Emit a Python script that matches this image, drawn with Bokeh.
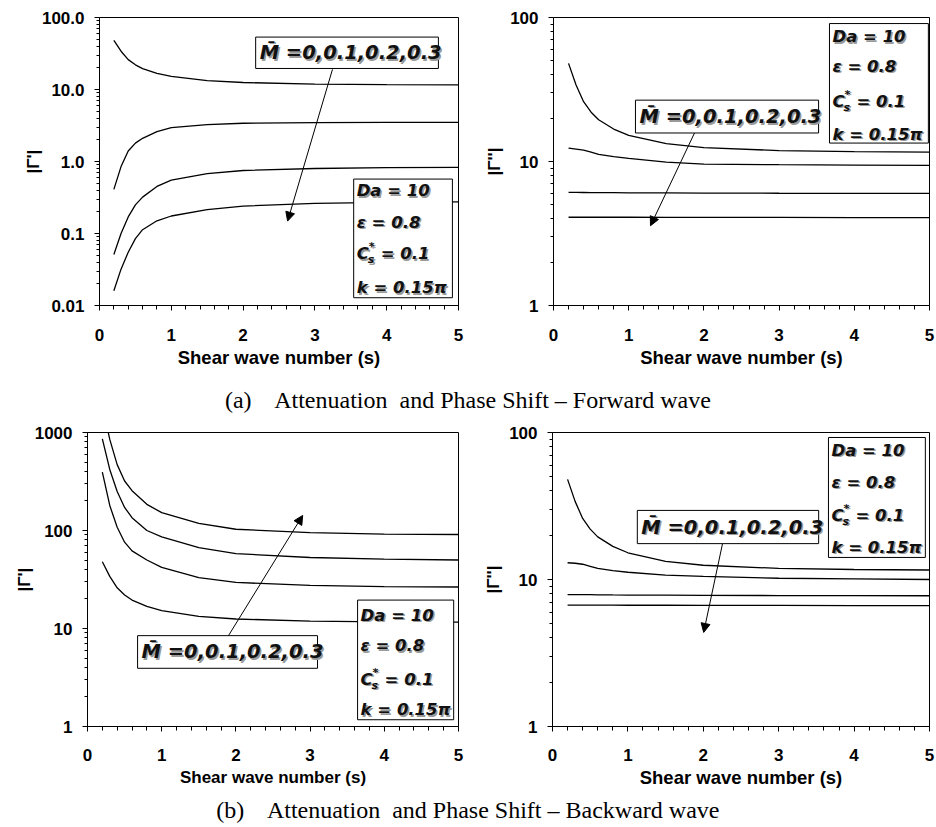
import numpy as np
from bokeh.plotting import figure
from bokeh.layouts import column, row
from bokeh.models import FixedTicker, BoxAnnotation, Label, Arrow, NormalHead, Range1d
from bokeh.embed import file_html
from bokeh.resources import INLINE
from bokeh.core.properties import value

# ---------------- data ----------------
s_vals = [0.2, 0.3, 0.4, 0.5, 0.6, 0.8, 1.0, 1.5, 2.0, 3.0, 4.0, 5.0]
M_bar = ["0", "0.1", "0.2", "0.3"]

# (a) forward wave - attenuation |Γ'|
fwd_att_M00 = [48, 34, 26, 22, 19.5, 16.8, 15.2, 13.3, 12.5, 11.9, 11.7, 11.6]
fwd_att_M01 = [0.41, 0.85, 1.4, 1.8, 2.1, 2.6, 2.95, 3.25, 3.4, 3.47, 3.5, 3.5]
fwd_att_M02 = [0.051, 0.10, 0.17, 0.25, 0.32, 0.45, 0.55, 0.68, 0.75, 0.80, 0.82, 0.83]
fwd_att_M03 = [0.016, 0.032, 0.055, 0.085, 0.113, 0.15, 0.175, 0.215, 0.24, 0.262, 0.27, 0.275]

# (a) forward wave - phase shift |Γ''|
fwd_ph_M00 = [48, 34, 26, 22, 19.5, 16.8, 15.2, 13.3, 12.5, 11.9, 11.7, 11.6]
fwd_ph_M01 = [12.4, 12.2, 12.0, 11.6, 11.2, 10.8, 10.5, 9.9, 9.6, 9.5, 9.45, 9.4]
fwd_ph_M02 = [6.10, 6.10, 6.09, 6.08, 6.08, 6.07, 6.06, 6.05, 6.04, 6.02, 6.01, 6.00]
fwd_ph_M03 = [4.10, 4.10, 4.10, 4.10, 4.10, 4.10, 4.10, 4.09, 4.09, 4.09, 4.08, 4.08]

# (b) backward wave - attenuation |Γ'|
bwd_att_M00 = [48, 34, 26, 22, 19.5, 16.8, 15.2, 13.3, 12.5, 11.9, 11.7, 11.6]
bwd_att_M01 = [395, 180, 108, 76, 62, 50, 42, 33, 29.5, 27.5, 26.8, 26.5]
bwd_att_M02 = [860, 420, 250, 172, 135, 100, 86, 67, 58, 53, 51, 50]
bwd_att_M03 = [1900, 850, 470, 320, 255, 185, 152, 118, 103, 95, 92, 91]

# (b) backward wave - phase shift |Γ''|
bwd_ph_M00 = [48, 34, 26, 22, 19.5, 16.8, 15.2, 13.3, 12.5, 11.9, 11.7, 11.6]
bwd_ph_M01 = [13.0, 12.9, 12.7, 12.3, 11.9, 11.5, 11.2, 10.7, 10.5, 10.2, 10.1, 10.0]
bwd_ph_M02 = [7.90, 7.90, 7.89, 7.88, 7.87, 7.85, 7.84, 7.82, 7.80, 7.78, 7.76, 7.75]
bwd_ph_M03 = [6.70, 6.70, 6.70, 6.69, 6.69, 6.69, 6.68, 6.68, 6.67, 6.66, 6.65, 6.65]

x_ticks = [0, 1, 2, 3, 4, 5]
x_title = "Shear wave number (s)"
m_text = "M\u0304 =" + ",".join(M_bar)
param_lines = ["Da = 10", "\u03b5 = 0.8", None, "k = 0.15\u03c0"]
caption_a = "(a)\u00a0\u00a0\u00a0 Attenuation\u00a0 and Phase Shift \u2013 Forward wave"
caption_b = "(b)\u00a0\u00a0\u00a0 Attenuation\u00a0 and Phase Shift \u2013 Backward wave"

AX_FONT = "Liberation Sans"
NOTE_FONT = "DejaVu Sans"


def make_panel(width, height, bl, br, bt, bb, y_lo, y_hi, y_labels, y_title,
               series, xt_size, xl_standoff, xt_standoff, ylab_standoff, notes):
    p = figure(width=width, height=height, x_range=Range1d(0, 5),
               y_range=Range1d(y_lo, y_hi), y_axis_type="log",
               output_backend="svg", toolbar_location=None,
               min_border_left=bl, min_border_right=br,
               min_border_top=bt, min_border_bottom=bb)
    fw = width - bl - br
    p.grid.visible = False
    p.outline_line_color = "black"
    p.outline_line_width = 1
    p.background_fill_color = "white"
    p.border_fill_color = "white"

    lo_e = int(round(np.log10(y_lo)))
    hi_e = int(round(np.log10(y_hi)))
    yt = [10.0 ** k for k in range(lo_e, hi_e + 1)]
    ymin = [m * 10.0 ** k for k in range(lo_e, hi_e) for m in range(2, 10)]
    p.yaxis.ticker = FixedTicker(ticks=yt, minor_ticks=ymin)
    p.yaxis.major_label_overrides = {t: lab for t, lab in zip(yt, y_labels)}
    p.xaxis.ticker = FixedTicker(ticks=x_ticks,
                                 minor_ticks=[round(0.2 * i, 1) for i in range(26)])

    for ax in (p.xaxis[0], p.yaxis[0]):
        ax.axis_line_color = "black"
        ax.major_tick_line_color = "black"
        ax.minor_tick_line_color = "black"
        ax.major_tick_out = 5
        ax.major_tick_in = 0
        ax.minor_tick_out = 4
        ax.minor_tick_in = 0
        ax.major_label_text_font = AX_FONT
        ax.major_label_text_font_style = "bold"
        ax.major_label_text_font_size = "17px"
        ax.major_label_text_color = "black"
        ax.axis_label_text_font = AX_FONT
        ax.axis_label_text_font_style = "bold"
        ax.axis_label_text_color = "black"
    p.yaxis.minor_tick_out = 3
    p.xaxis.major_label_standoff = xl_standoff
    p.yaxis.major_label_standoff = 10
    p.xaxis.axis_label = x_title
    p.xaxis.axis_label_text_font_size = xt_size
    p.xaxis.axis_label_standoff = xt_standoff
    p.yaxis.axis_label = y_title
    p.yaxis.axis_label_text_font_size = "17px"
    p.yaxis.axis_label_standoff = ylab_standoff

    for ys in series:
        p.line(s_vals, ys, line_color="black", line_width=1.3)

    l10 = np.log10

    def at(fx, fy):
        return 5.0 * fx, 10 ** (l10(y_hi) - fy * (l10(y_hi) - l10(y_lo)))

    def label(x, y, text, size, xo=0, yo=0):
        for col, dx, dy in (("#9a9a9a", 1.5, -1.5), ("#111111", 0, 0)):
            p.add_layout(Label(x=x, y=y, text=text, x_offset=xo + dx, y_offset=yo + dy,
                               text_font=NOTE_FONT, text_font_style="bold italic",
                               text_font_size=size, text_color=col,
                               text_baseline="middle", text_align="left"))

    # arrow
    (ax0, ay0), (ax1, ay1) = notes["arrow"]
    xs0, ys0 = at(ax0, ay0)
    xs1, ys1 = at(ax1, ay1)
    p.add_layout(Arrow(end=NormalHead(size=9, fill_color="black", line_color="black"),
                       x_start=xs0, y_start=ys0, x_end=xs1, y_end=ys1,
                       line_color="black", line_width=1))

    def box(l, r, t, b):
        x0, y0 = at(l, t)
        x1, y1 = at(r, b)
        p.add_layout(BoxAnnotation(left=x0, right=x1, top=y0, bottom=y1,
                                   fill_color="white", fill_alpha=1.0,
                                   line_color="black", line_alpha=1.0, line_width=1))

    # M-bar box
    l, r, t, b = notes["mbox"]
    box(l, r, t, b)
    tx, ty = at(l + 4.0 / fw, (t + b) / 2)
    label(tx, ty, m_text, "19.5px")

    # parameter box
    l, r, t, b = notes["pbox"]
    box(l, r, t, b)
    for line_txt, fy in zip(param_lines, notes["plines"]):
        tx, ty = at(l + 3.0 / fw, fy)
        if line_txt is not None:
            label(tx, ty, line_txt, "16.5px")
        else:
            label(tx, ty, "C", "16.5px")
            label(tx, ty, "*", "11px", xo=12, yo=7)
            label(tx, ty, "s", "11px", xo=11, yo=-6)
            label(tx, ty, "= 0.1", "16.5px", xo=24)
    return p


p1 = make_panel(466, 381, 99, 8, 17, 70, 0.01, 100.0,
                ["0.01", "0.1", "1.0", "10.0", "100.0"], "|\u0393'|",
                [fwd_att_M00, fwd_att_M01, fwd_att_M02, fwd_att_M03], "18.5px", 18, 3, -4,
                dict(mbox=(0.435, 0.944, 0.068, 0.177),
                     pbox=(0.708, 0.983, 0.561, 0.973),
                     plines=[0.602, 0.711, 0.820, 0.939],
                     arrow=((0.649, 0.180), (0.524, 0.707))))

p2 = make_panel(470, 381, 87, 7, 16, 76, 1.0, 100.0,
                ["1", "10", "100"], "|\u0393''|",
                [fwd_ph_M00, fwd_ph_M01, fwd_ph_M02, fwd_ph_M03], "18.5px", 18, 3, 3,
                dict(mbox=(0.218, 0.705, 0.287, 0.401),
                     pbox=(0.734, 0.997, 0.021, 0.436),
                     plines=[0.066, 0.170, 0.291, 0.405],
                     arrow=((0.375, 0.401), (0.258, 0.723))))

p3 = make_panel(466, 376, 87, 8, 12, 66, 1.0, 1000.0,
                ["1", "10", "100", "1000"], "|\u0393'|",
                [bwd_att_M00, bwd_att_M01, bwd_att_M02, bwd_att_M03], "17px", 17, 4, -2,
                dict(mbox=(0.135, 0.620, 0.691, 0.802),
                     pbox=(0.728, 0.987, 0.570, 0.977),
                     plines=[0.621, 0.725, 0.839, 0.943],
                     arrow=((0.380, 0.691), (0.580, 0.282))))

p4 = make_panel(470, 376, 86, 7, 12, 70, 1.0, 100.0,
                ["1", "10", "100"], "|\u0393''|",
                [bwd_ph_M00, bwd_ph_M01, bwd_ph_M02, bwd_ph_M03], "18.5px", 17, 3, 3,
                dict(mbox=(0.225, 0.706, 0.265, 0.378),
                     pbox=(0.732, 0.989, 0.017, 0.425),
                     plines=[0.061, 0.170, 0.282, 0.391],
                     arrow=((0.451, 0.378), (0.401, 0.680))))


def caption(text, h, yf):
    c = figure(width=936, height=h, x_range=Range1d(0, 1), y_range=Range1d(0, 1),
               x_axis_location=None, y_axis_location=None,
               output_backend="svg", toolbar_location=None, min_border=0)
    c.grid.visible = False
    c.outline_line_color = None
    c.text(x=[0.5], y=[yf], text=[text], text_font=value("Liberation Serif"),
           text_font_size="24px", text_align="center", text_baseline="middle",
           text_color="black")
    return c


cap_a = caption(caption_a, 39, 0.52)
cap_b = caption(caption_b, 31, 0.55)

layout = column(row(p1, p2), cap_a, row(p3, p4), cap_b)
open("out.html", "w").write(file_html(layout, INLINE))
